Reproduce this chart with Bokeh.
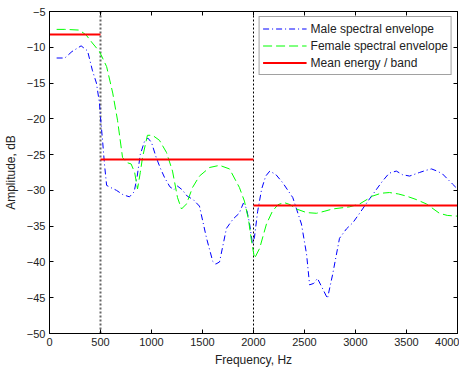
from bokeh.plotting import figure
from bokeh.models import LinearAxis, Span, Range1d, FixedTicker
from bokeh.embed import file_html
from bokeh.resources import INLINE

# ---------------- data ----------------
male_f = [70, 150, 220, 310, 373, 420, 460, 490, 500, 520, 540, 560, 600, 657, 720, 784,
          830, 860, 890, 930, 965, 1000, 1046, 1090, 1128, 1180, 1220, 1255, 1300, 1350,
          1410, 1470, 1540, 1600, 1630, 1667, 1735, 1800, 1860, 1900, 1930, 1960, 1990,
          2010, 2040, 2080, 2120, 2160, 2220, 2285, 2385, 2470, 2520, 2550, 2590, 2627,
          2680, 2725, 2775, 2843, 2910, 2975, 3040, 3137, 3265, 3330, 3400, 3460, 3530,
          3627, 3690, 3745, 3800, 3853, 3950, 4000]
male_db = [-11.5, -11.5, -10.6, -9.8, -10.5, -13.2, -15.0, -17.8, -19.8, -23.0, -26.5, -29.3,
           -29.6, -30.0, -30.6, -30.9, -30.2, -28.0, -25.0, -23.2, -22.7, -23.3, -25.4, -27.0,
           -28.2, -29.5, -29.9, -29.4, -29.9, -30.8, -31.3, -32.2, -36.7, -39.9, -40.3, -40.0,
           -35.3, -34.0, -33.2, -31.8, -32.5, -34.5, -37.5, -36.5, -33.0, -29.8, -28.0, -27.3,
           -27.8, -28.9, -31.0, -34.7, -38.9, -43.2, -43.0, -42.3, -43.8, -45.1, -41.8, -36.7,
           -35.4, -34.5, -33.2, -31.2, -28.7, -27.6, -27.3, -27.8, -28.0, -27.5, -27.2, -27.0,
           -27.3, -27.7, -29.1, -29.8]

female_f = [70, 150, 294, 360, 420, 490, 560, 620, 667, 716, 755, 800, 835, 863, 890, 912,
            960, 1010, 1078, 1147, 1206, 1255, 1294, 1343, 1402, 1470, 1570, 1667, 1765,
            1862, 1911, 1950, 1980, 2010, 2060, 2127, 2186, 2240, 2300, 2360, 2421, 2520,
            2617, 2700, 2775, 2941, 3040, 3167, 3250, 3333, 3420, 3500, 3600, 3696, 3823,
            3900, 4000]
female_db = [-7.5, -7.5, -7.6, -8.3, -9.4, -10.6, -12.7, -16.4, -20.2, -25.4, -26.1, -26.3,
             -27.5, -29.8, -27.5, -25.4, -22.3, -22.3, -23.0, -24.7, -27.3, -31.0, -32.6,
             -31.9, -29.6, -28.0, -26.8, -26.5, -27.0, -29.6, -31.5, -34.0, -37.0, -39.5,
             -38.1, -34.7, -32.9, -32.0, -31.7, -32.0, -32.6, -33.1, -33.2, -32.9, -32.6,
             -32.3, -31.9, -30.8, -30.4, -30.3, -30.5, -30.8, -31.3, -31.9, -33.2, -33.5,
             -33.6]

band_edges = [0, 500, 2000, 4000]
band_means = [-8.2, -25.7, -32.1]

x_ticks = [0, 500, 1000, 1500, 2000, 2500, 3000, 3500, 4000]
y_ticks = [-50, -45, -40, -35, -30, -25, -20, -15, -10, -5]

FONT = "Liberation Sans"

p = figure(width=459, height=369, output_backend="svg", toolbar_location=None,
           x_range=Range1d(0, 4000), y_range=Range1d(-50, -5),
           min_border_left=42, min_border_right=2, min_border_top=11, min_border_bottom=0)
p.grid.visible = False
p.outline_line_color = "black"
p.background_fill_color = "white"
p.border_fill_color = "white"

# band separators
p.add_layout(Span(location=band_edges[1], dimension="height", line_color="#666666",
                  line_dash="2 2", line_width=2, level="underlay"))
p.add_layout(Span(location=band_edges[2], dimension="height", line_color="black",
                  line_dash="2 2", line_width=1, level="underlay"))

p.line(male_f, male_db, line_color="#0000ff", line_width=1, line_dash="6 3 1 3",
       legend_label="Male spectral envelope")
p.line(female_f, female_db, line_color="#00ff00", line_width=1, line_dash="9 4",
       legend_label="Female spectral envelope")
p.segment(x0=band_edges[:-1], y0=band_means, x1=band_edges[1:], y1=band_means,
          line_color="#ff0000", line_width=2, legend_label="Mean energy / band")

def style_axis(ax, show_labels=True):
    ax.major_tick_in = 4
    ax.major_tick_out = 0
    ax.minor_tick_in = 0
    ax.minor_tick_out = 0
    ax.axis_line_color = "black"
    ax.major_tick_line_color = "black"
    ax.major_label_text_font = FONT
    ax.axis_label_text_font = FONT
    ax.axis_label_text_font_size = "12px"
    ax.axis_label_text_font_style = "normal"
    ax.axis_label_text_color = "#222222"
    if show_labels:
        ax.major_label_text_font_size = "11px"
        ax.major_label_text_color = "#222222"
    else:
        ax.major_label_text_font_size = "1px"
        ax.major_label_text_color = None
        ax.major_label_text_alpha = 0
        ax.major_label_standoff = 0

xb = p.xaxis[0]
xb.ticker = FixedTicker(ticks=x_ticks)
style_axis(xb)
xb.axis_label = "Frequency, Hz"
xb.major_label_standoff = 4
xb.axis_label_standoff = 4

yl = p.yaxis[0]
yl.ticker = FixedTicker(ticks=y_ticks)
style_axis(yl)
yl.axis_label = "Amplitude, dB"
yl.major_label_standoff = 4
yl.axis_label_standoff = 6

xt = LinearAxis(ticker=FixedTicker(ticks=x_ticks))
style_axis(xt, show_labels=False)
p.add_layout(xt, "above")

yr = LinearAxis(ticker=FixedTicker(ticks=y_ticks))
style_axis(yr, show_labels=False)
p.add_layout(yr, "right")

lg = p.legend[0]
lg.location = "top_right"
lg.margin = 5
lg.padding = 3
lg.spacing = 0
lg.glyph_width = 44
lg.glyph_height = 17
lg.label_standoff = 4
lg.label_text_font = FONT
lg.label_text_font_size = "12px"
lg.label_text_color = "#222222"
lg.border_line_color = "#444444"
lg.border_line_width = 1
lg.background_fill_color = "white"
lg.background_fill_alpha = 1.0

open("out.html", "w").write(file_html(p, INLINE))
